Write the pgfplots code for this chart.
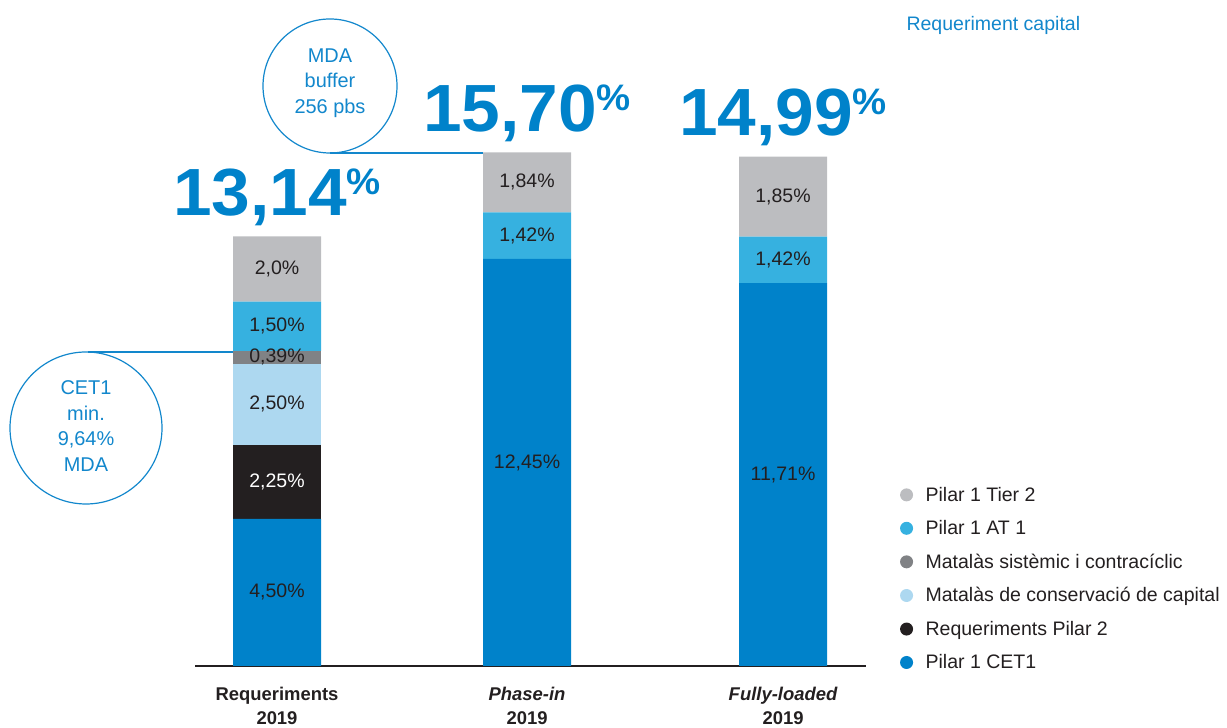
\documentclass[border=0pt]{standalone}
\usepackage{fontspec}
\setmainfont{Liberation Sans}
\newfontfamily\heavy{Liberation Sans}[FakeStretch=1.04]
\usepackage{pgfplots}
\pgfplotsset{compat=1.18}

\definecolor{cetone}{HTML}{0082CA}
\definecolor{pilartwo}{HTML}{231F20}
\definecolor{conserv}{HTML}{ADD8F0}
\definecolor{sistem}{HTML}{808285}
\definecolor{atone}{HTML}{36B1E0}
\definecolor{tiertwo}{HTML}{BCBDC0}
\definecolor{txt}{HTML}{231F20}
\definecolor{accent}{HTML}{1287CC}

\newcommand{\ftext}{\fontsize{19.6}{23}\selectfont}
\newcommand{\total}[1]{{\heavy\fontsize{67}{67}\selectfont\bfseries #1}{\heavy\fontsize{37}{37}\selectfont\bfseries\raisebox{21bp}{\%}}}

\pgfplotsset{dot legend/.style={legend image code/.code={\fill[##1] (6bp,0bp) circle (6.5bp);}}}
\tikzset{lbl/.style={font=\ftext, text=txt}}

\begin{document}
\begin{tikzpicture}[x=1bp,y=1bp]
\path[use as bounding box] (0,0) rectangle (1227,728);
\begin{axis}[
  at={(195bp,62bp)}, anchor=south west,
  scale only axis, width=671bp, height=654bp,
  xmin=-0.328, xmax=2.356, ymin=0, ymax=20,
  ybar stacked, bar width=88bp,
  axis x line=bottom, axis y line=none,
  axis line style={-, line width=2.5bp, draw=txt},
  xtick={0,1,2.024},
  xticklabels={{Requeriments\\2019},{{\itshape Phase-in}\\2019},{{\itshape Fully-loaded}\\2019}},
  major tick length=0pt,
  xticklabel style={align=center, font=\fontsize{18.5}{24}\selectfont\bfseries, text=txt, yshift=-18bp},
  clip=false,
  reverse legend,
  legend cell align=left,
  legend style={draw=none, fill=none, at={(1.046,0.280)}, anchor=north west,
    font=\ftext, text=txt, row sep=13.8bp,
    /tikz/every odd column/.append style={column sep=10.5bp}},
]
\addplot[fill=cetone, draw=none, dot legend] coordinates {(0,4.50) (1,12.45) (2.024,11.71)};
\addlegendentry{Pilar 1 CET1}
\addplot[fill=pilartwo, draw=none, dot legend] coordinates {(0,2.25) (1,0) (2.024,0)};
\addlegendentry{Requeriments Pilar 2}
\addplot[fill=conserv, draw=none, dot legend] coordinates {(0,2.50) (1,0) (2.024,0)};
\addlegendentry{Matalàs de conservació de capital}
\addplot[fill=sistem, draw=none, dot legend] coordinates {(0,0.39) (1,0) (2.024,0)};
\addlegendentry{Matalàs sistèmic i contracíclic}
\addplot[fill=atone, draw=none, dot legend] coordinates {(0,1.50) (1,1.42) (2.024,1.42)};
\addlegendentry{Pilar 1 AT 1}
\addplot[fill=tiertwo, draw=none, dot legend] coordinates {(0,2.00) (1,1.84) (2.024,2.45)};
\addlegendentry{Pilar 1 Tier 2}

% anchors for labels, drawn after the axis so they sit above the bars
\coordinate (a1) at (axis cs:0,2.25);
\coordinate (a2) at (axis cs:0,5.625);
\coordinate (a3) at (axis cs:0,8.0);
\coordinate (a4) at (axis cs:0,9.445);
\coordinate (a5) at (axis cs:0,10.39);
\coordinate (a6) at (axis cs:0,12.14);
\coordinate (b1) at (axis cs:1,6.225);
\coordinate (b2) at (axis cs:1,13.16);
\coordinate (b3) at (axis cs:1,14.79);
\coordinate (c1) at (axis cs:2.024,5.855);
\coordinate (c2) at (axis cs:2.024,12.42);
\coordinate (c3) at (axis cs:2.024,14.355);
\coordinate (ta) at (axis cs:0,13.14);
\coordinate (tb) at (axis cs:1,15.71);
\coordinate (tc) at (axis cs:2.024,15.58);
\end{axis}

\node[lbl] at (a1) {4,50\%};
\node[lbl, text=white] at (a2) {2,25\%};
\node[lbl] at (a3) {2,50\%};
\node[lbl] at (a4) {0,39\%};
\node[lbl] at (a5) {1,50\%};
\node[lbl] at (a6) {2,0\%};
\node[lbl] at (b1) {12,45\%};
\node[lbl] at (b2) {1,42\%};
\node[lbl] at (b3) {1,84\%};
\node[lbl] at (c1) {11,71\%};
\node[lbl] at (c2) {1,42\%};
\node[lbl] at (c3) {1,85\%};

\node[anchor=base, text=cetone, yshift=21bp] at (ta) {\total{13,14}};
\node[anchor=base, text=cetone, yshift=21bp] at (tb) {\total{15,70}};
\node[anchor=base, text=cetone, yshift=21bp] at (tc) {\total{14,99}};

\node[anchor=base west, text=accent, font=\ftext] at (903,697) {Requeriment capital};

% MDA buffer bubble
\draw[accent, line width=1.2bp] (330,642) circle (67);
\node[align=center, text=accent, font=\fontsize{20}{25.5}\selectfont] at (330,645) {MDA\\buffer\\256 pbs};
\draw[accent, line width=1.2bp] (330,575) -- (483,575);

% CET1 bubble
\draw[accent, line width=1.2bp] (86,300) circle (76);
\node[align=center, text=accent, font=\fontsize{20}{25.5}\selectfont] at (86,302) {CET1\\min.\\9,64\%\\MDA};
\draw[accent, line width=1.2bp] (88,376) -- (233,376);
\end{tikzpicture}
\end{document}
